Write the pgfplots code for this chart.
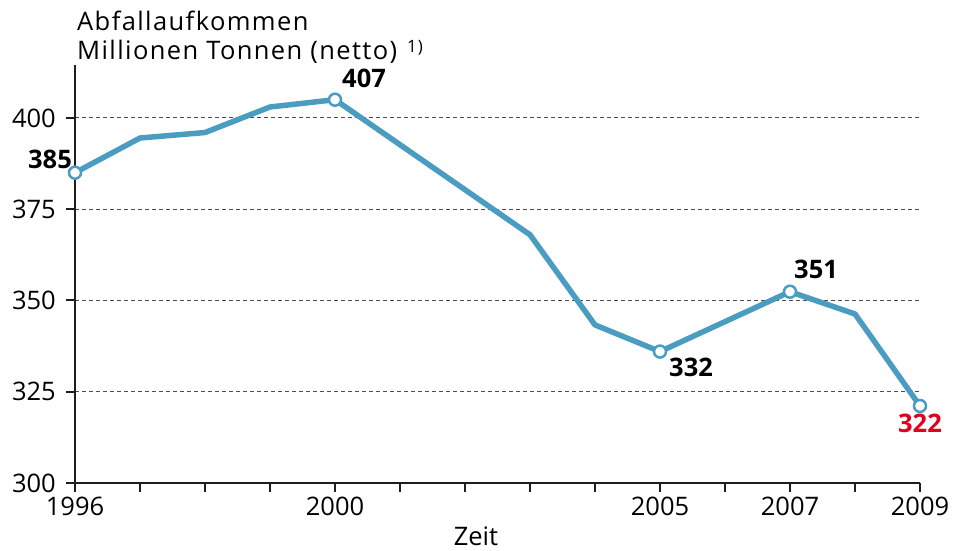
\documentclass[border=0pt]{standalone}
\usepackage{fontspec}
\setmainfont{Open Sans}
\newfontfamily\titlefont{Open Sans}[LetterSpace=5.5]
\usepackage{pgfplots}
\pgfplotsset{compat=1.18}
\definecolor{lineblue}{RGB}{74,157,193}
\definecolor{labred}{RGB}{226,0,26}
\definecolor{axcol}{RGB}{30,30,30}
\begin{document}
\begin{tikzpicture}[font=\fontsize{25.5}{30}\selectfont]
\begin{axis}[name=ax, scale only axis, width=845pt, height=418pt,
  xmin=1996, xmax=2009, ymin=300, ymax=414.5, enlargelimits=false, clip=false,
  axis x line=bottom, axis y line=left,
  axis line style={-, line width=2.5pt, color=axcol},
  xtick={1996,1997,1998,1999,2000,2001,2002,2003,2004,2005,2006,2007,2008,2009},
  xticklabels={1996,,,,2000,,,,,2005,,2007,,2009},
  ytick={300,325,350,375,400},
  yticklabels={300,325,350,375,400},
  tick align=outside, major tick length=9pt,
  tick style={line width=2pt, color=axcol},
  ymajorgrids, major grid style={line width=1pt, color=black!70, dash pattern=on 4pt off 3pt},
  xticklabel style={inner sep=0pt, anchor=north, yshift=-5pt},
  yticklabel style={inner sep=0pt, anchor=east, xshift=-10pt},
]
\addplot[color=lineblue, line width=5.5pt, line join=round] coordinates {
(1996,385) (1997,394.5) (1998,396) (1999,403) (2000,405) (2003,368) (2004,343.3) (2005,336) (2007,352.4) (2008,346.3) (2009,321.1)};
\addplot[only marks, mark=*, mark size=6pt, mark options={fill=white, draw=lineblue, line width=2.5pt}] coordinates {
(1996,385) (2000,405) (2005,336) (2007,352.4) (2009,321.1)};
\node[anchor=base east, font=\fontsize{25.5}{30}\selectfont\bfseries, inner sep=0pt] at ([xshift=-3pt,yshift=4pt]axis cs:1996,385) {385};
\node[anchor=base west, font=\fontsize{25.5}{30}\selectfont\bfseries, inner sep=0pt] at ([xshift=7pt,yshift=12pt]axis cs:2000,405) {407};
\node[anchor=base west, font=\fontsize{25.5}{30}\selectfont\bfseries, inner sep=0pt] at ([xshift=9pt,yshift=-25pt]axis cs:2005,336) {332};
\node[anchor=base west, font=\fontsize{25.5}{30}\selectfont\bfseries, inner sep=0pt] at ([xshift=4pt,yshift=13pt]axis cs:2007,352.4) {351};
\node[anchor=base, font=\fontsize{25.5}{30}\selectfont\bfseries, inner sep=0pt, text=labred] at ([xshift=0pt,yshift=-27pt]axis cs:2009,321.1) {322};
\end{axis}
\node[anchor=base west, inner sep=0pt, font=\fontsize{25.5}{30}\selectfont\titlefont] at ([xshift=2pt,yshift=34pt]ax.north west) {Abfallaufkommen};
\node[anchor=base west, inner sep=0pt, font=\fontsize{25.5}{30}\selectfont\titlefont] at ([xshift=2pt,yshift=5pt]ax.north west) {Millionen Tonnen (netto)\hspace{10pt}\raisebox{7pt}{\fontsize{17}{19}\selectfont 1)}};
\node[anchor=base, inner sep=0pt] at ([xshift=401pt,yshift=-62pt]ax.south west) {Zeit};
\pgfresetboundingbox
\path[use as bounding box] ([xshift=-75pt,yshift=-67pt]ax.south west) rectangle ++(954pt,550pt);
\end{tikzpicture}
\end{document}
